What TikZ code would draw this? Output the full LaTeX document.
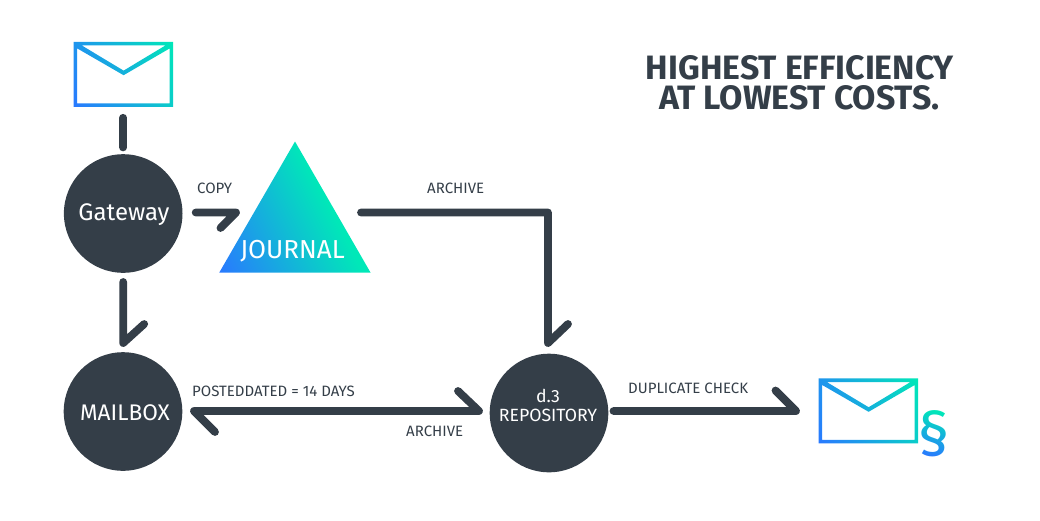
\documentclass[tikz,border=0pt]{standalone}
\usepackage{fontspec}
\setmainfont{Fira Sans}
\usetikzlibrary{fadings,shapes.geometric}
\definecolor{ink}{HTML}{343E48}
\definecolor{gblue}{HTML}{2979FF}
\definecolor{gteal}{HTML}{00E8B8}
\pgfdeclareverticalshading{gradenv}{100bp}{color(0bp)=(gblue); color(16.5bp)=(gblue); color(83.5bp)=(gteal); color(100bp)=(gteal)}
\pgfdeclareverticalshading{gradtri}{100bp}{color(0bp)=(gblue); color(16.5bp)=(gblue); color(61bp)=(gteal); color(100bp)=(gteal)}
\pgfdeclareverticalshading{gradsec}{100bp}{color(0bp)=(gblue); color(30bp)=(gblue); color(70bp)=(gteal); color(100bp)=(gteal)}
\begin{tikzfadingfrompicture}[name=secfade]
\node[text=transparent!0,inner sep=0pt,font=\fontsize{62}{62}\selectfont] {§};
\end{tikzfadingfrompicture}
\tikzset{
  x=1pt,y=-1pt,
  disc/.style={circle,fill=ink,text=white,inner sep=0pt,minimum size=118.6pt,align=center,font=\fontsize{23}{26}\selectfont},
  conn/.style={draw=ink,line width=7.8pt,line cap=round,line join=round},
  lbl/.style={text=ink,inner sep=0pt,font=\fontsize{15}{18}\selectfont},
  ghost/.style={inner sep=0pt,minimum width=99.5pt,minimum height=65pt},
  grad/.style={shading=gradenv,shading angle=-63.4},
}
\newcommand{\envshape}[2]{%
  \shade[grad,even odd rule,shift={(#1,#2)}]
    (73.7,41.8) -- (173.2,41.8) -- (173.2,106.8) -- (73.7,106.8) -- cycle
    (81.7,45.4) -- (165.5,45.4) -- (123.6,70.6) -- cycle
    (77.2,103.3) -- (169.7,103.3) -- (169.7,48.4) -- (123.6,75.2) -- (77.2,48.4) -- cycle;%
}
\begin{document}
\begin{tikzpicture}
\useasboundingbox (0,0) rectangle (1040,520);
% envelopes
\envshape{0}{0}
\envshape{745}{336.6}
\node[ghost] (mailin) at (123.2,74.3) {};
\node[ghost] (mailout) at (868.5,410.9) {};
% section sign
\shade[shading=gradsec,shading angle=-15,path fading=secfade,fit fading=false,fading transform={shift={(934.5,434)}}]
  (916,402) rectangle (953,466);
% journal
\shade[shading=gradtri,shading angle=-63.4] (295,141.5) -- (370.5,272.5) -- (219.3,272.5) -- cycle;
\coordinate (jr) at (361,212.5);
\node[text=white,inner sep=0pt,font=\fontsize{26}{30}\selectfont] (journal) at (292.5,251) {JOURNAL};
% discs
\node[disc] (gateway) at (123.2,213.5) {};
\node[text=white,inner sep=0pt,font=\fontsize{24}{26}\selectfont] (gatewaytext) at (124,215) {Gateway};
\node[disc] (mailbox) at (123,411.5) {};
\node[text=white,inner sep=0pt,font=\fontsize{22.6}{26}\selectfont] (mailboxtext) at (125,412.5) {MAILBOX};
\node[disc] (repo) at (549,413) {};
\node[text=white,inner sep=0pt,align=center,font=\fontsize{17.7}{19}\selectfont] (repotext) at (548,405.5) {d.3\\REPOSITORY};
% connector end points
\coordinate (t1) at (236,212.5);
\coordinate (t2) at (123.2,343);
\coordinate (t3) at (548,343);
\coordinate (t4) at (194,411);
\coordinate (t5) at (479,411);
\coordinate (t6) at (796,411);
% connectors
\draw[conn,shorten <=10.8pt,shorten >=6.6pt] (mailin.south) -- (gateway.north);
\draw[conn,shorten <=13pt] (gateway.east |- t1) -- (t1) -- ++(-15.5,15.5);
\draw[conn,shorten <=9pt] (gateway.south) -- (t2) -- ++(21,-19);
\draw[conn] (jr) -- (548,212.5) -- (t3) -- ++(20,-19);
\draw[conn] (t4) ++(21,21) -- (t4) -- (t5) -- ++(-21,-20);
\draw[conn,shorten <=5pt] (repo.east |- t6) -- (t6) -- ++(-20.5,-20.5);
% labels
\node[lbl,anchor=west] (lcopy) at (197,188.5) {COPY};
\node[lbl,anchor=west] (larch1) at (427,188.5) {ARCHIVE};
\node[lbl,anchor=west] (lpost) at (192,391.5) {POSTEDDATED = 14 DAYS};
\node[lbl,anchor=west] (larch2) at (406,431.5) {ARCHIVE};
\node[lbl,anchor=west] (ldup) at (628,388) {DUPLICATE CHECK};
\node[text=ink,inner sep=0pt,font=\fontsize{33.8}{30}\bfseries\selectfont] (title1) at (800,68) {HIGHEST EFFICIENCY};
\node[text=ink,inner sep=0pt,font=\fontsize{33.8}{30}\bfseries\selectfont] (title2) at (799.5,98) {AT LOWEST COSTS.};
\end{tikzpicture}
\end{document}
